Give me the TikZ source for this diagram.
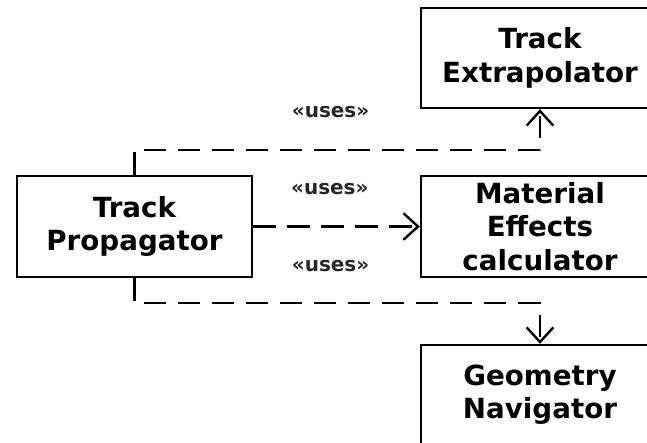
\documentclass[tikz,border=0pt]{standalone}
\usepackage{fontspec}
\setmainfont{DejaVu Sans}
\usetikzlibrary{arrows.meta}

\begin{document}
\begin{tikzpicture}[x=0.75pt,y=-0.75pt,line width=1.8pt,
	block/.style={draw,rectangle,align=center,inner sep=0pt,minimum width=178.5pt,minimum height=75pt,font=\bfseries\fontsize{20.8}{25}\selectfont},
	uses/.style={dash pattern=on 17pt off 8.5pt,-{Straight Barb[length=11pt,width=20pt]}},
	stereo/.style={font=\bfseries\fontsize{15}{17}\selectfont,text=black!85,xshift=-5pt,yshift=28pt}]
%		page of the picture, boxes on the right run past its edge
		\useasboundingbox (0,0) rectangle (647,443);
		\clip (0,0) rectangle (647,443);
		\node[block,minimum width=176.25pt,minimum height=75.75pt] (prop) at (134.5,226.5) {Track\\Propagator};
		\node[block] (extra) at (540,58) {Track\\Extrapolator};
		\node[block,minimum height=75.75pt] (matfx) at (540,226.5) {Material\\Effects\\calculator};
		\node[block] (geonav) at (540,395) {Geometry\\Navigator};
		\draw[uses] (prop.north) -- ++(0,-25) -| (extra.south) node[pos=0.25,stereo] (use_a) {«uses»};
		\draw[uses] (prop.east) -- (matfx.west) node[midway,stereo] (use_b) {«uses»};
		\draw[uses] (prop.south) -- ++(0,25) -| (geonav.north) node[pos=0.25,stereo] (use_c) {«uses»};
	\end{tikzpicture}
\end{document}
